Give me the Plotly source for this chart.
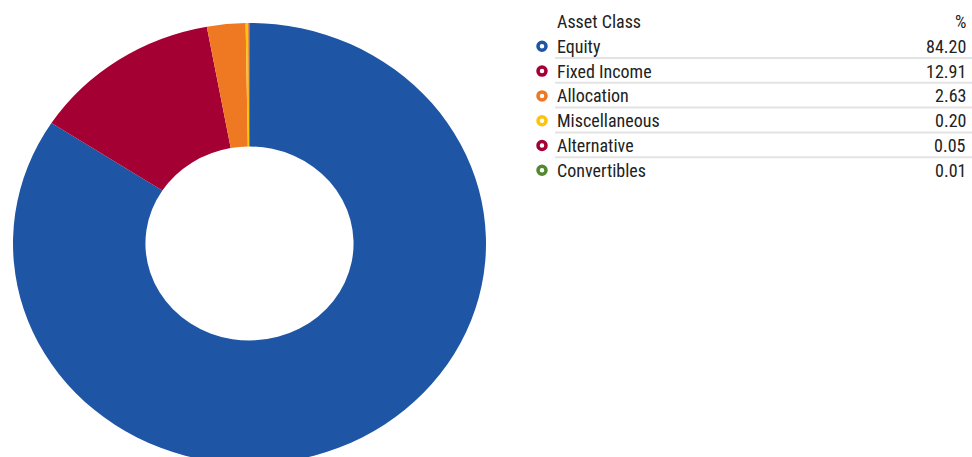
import plotly.graph_objects as go

# Asset allocation data
asset_classes = ["Equity", "Fixed Income", "Allocation", "Miscellaneous", "Alternative", "Convertibles"]
percentages = [84.20, 12.91, 2.63, 0.20, 0.05, 0.01]
colors = ["#1f55a5", "#a50034", "#ef7822", "#ffc20e", "#a50034", "#54882e"]
header_labels = ["Asset Class", "%"]

W, H = 972, 500
FONT = "Roboto Condensed, Roboto, sans-serif"
TEXT_COLOR = "#222222"

# Donut geometry (pixels): centre, vertical radius and horizontal stretch
CX, CY, RY = 249.5, 243.5, 220.5
STRETCH_X = 236.5 / RY

fig = go.Figure()

fig.add_trace(go.Pie(
    labels=asset_classes,
    values=percentages,
    marker=dict(colors=colors, line=dict(width=0)),
    hole=0.44,
    sort=False,
    direction="clockwise",
    rotation=0,
    textinfo="none",
    hoverinfo="label+value",
    showlegend=False,
    domain=dict(x=[(CX - RY) / W, (CX + RY) / W],
                y=[(H - (CY + RY)) / H, (H - (CY - RY)) / H]),
))

# Table-style legend laid out on a pixel-scaled hidden axis
row_y0, row_step = 46.3, 24.8
header_y = 21.5
text_x, value_x, marker_x = 555, 968, 542
row_ys = [row_y0 + i * row_step for i in range(len(asset_classes))]

fig.add_trace(go.Scatter(
    x=[marker_x] * len(asset_classes),
    y=row_ys,
    mode="markers",
    marker=dict(symbol="circle-open", size=8, color=colors, line=dict(width=3.5, color=colors)),
    hoverinfo="skip",
    showlegend=False,
    xaxis="x", yaxis="y",
))

annotations = [
    dict(x=text_x, y=header_y, text=header_labels[0], xanchor="left"),
    dict(x=value_x, y=header_y, text=header_labels[1], xanchor="right"),
]
for name, pct, yy in zip(asset_classes, percentages, row_ys):
    annotations.append(dict(x=text_x, y=yy, text=name, xanchor="left"))
    annotations.append(dict(x=value_x, y=yy, text=f"{pct:.2f}", xanchor="right"))
for a in annotations:
    a.update(xref="x", yref="y", yanchor="middle", showarrow=False,
             font=dict(family=FONT, size=18, color=TEXT_COLOR))

shapes = []
for yy in row_ys[:-1]:
    ly = yy + 11.7
    shapes.append(dict(type="line", xref="x", yref="y", x0=text_x, x1=W, y0=ly, y1=ly,
                       line=dict(color="#e3e3e3", width=2)))

fig.update_layout(
    width=W, height=H,
    margin=dict(l=0, r=0, t=0, b=0),
    paper_bgcolor="white", plot_bgcolor="rgba(0,0,0,0)",
    xaxis=dict(range=[0, W], domain=[0, 1], visible=False, fixedrange=True),
    yaxis=dict(range=[H, 0], domain=[0, 1], visible=False, fixedrange=True),
    annotations=annotations,
    shapes=shapes,
    showlegend=False,
)

# Widen the donut horizontally about its own centre
post = (
    "document.body.style.margin='0';"
    "document.body.style.overflow='hidden';"
    "var gd=document.getElementById('{plot_id}');"
    "var pl=gd.querySelector('.pielayer');"
    "if(pl){pl.setAttribute('transform',"
    f"'translate({CX},{CY}) scale({STRETCH_X:.5f},1) translate({-CX},{-CY})');}}"
)

fig.write_html(
    "out.html",
    config={"displayModeBar": False},
    post_script=post,
)
